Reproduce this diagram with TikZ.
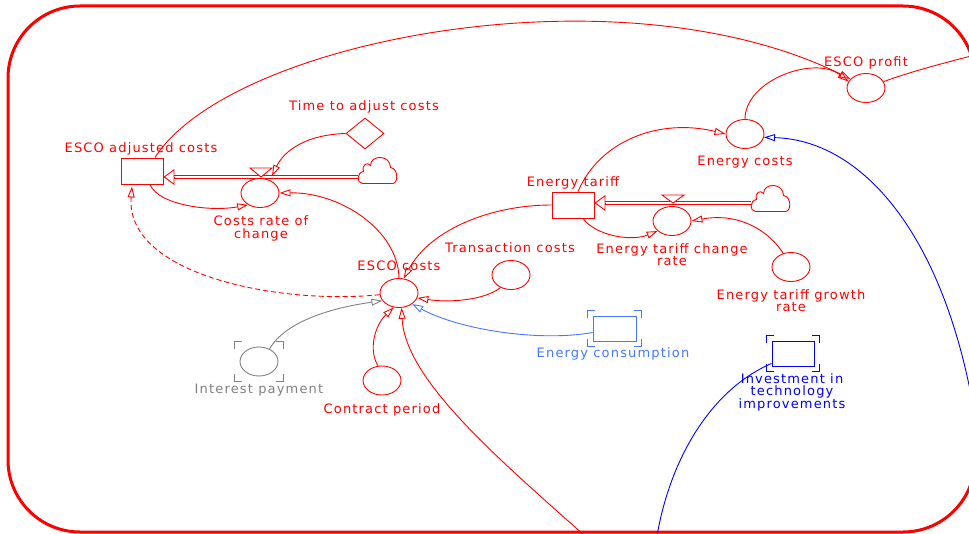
\documentclass[tikz,border=0pt]{standalone}
\usepackage{fontspec}
\setmainfont{DejaVu Sans}[LetterSpace=9]
\usetikzlibrary{arrows.meta,shapes.geometric}

\definecolor{vred}{RGB}{255,0,0}
\definecolor{vblue}{RGB}{0,0,255}
\definecolor{cblue}{RGB}{70,120,255}
\definecolor{vgray}{RGB}{128,128,128}

\tikzset{
  stock/.style = {rectangle, draw=#1, fill=white, minimum width=42pt, minimum height=26pt, inner sep=0pt},
  aux/.style = {ellipse, draw=#1, fill=white, minimum width=38pt, minimum height=29pt, inner sep=0pt},
  constbox/.style = {diamond, draw=#1, fill=white, minimum width=38pt, minimum height=31pt, inner sep=0pt},
  cloudbox/.style = {rectangle, minimum width=39pt, minimum height=27pt, inner sep=0pt},
  lbl/.style = {font=\fontsize{13}{12.7}\selectfont, inner sep=0pt, align=center, anchor=base},
  conn/.style = {-{Triangle[open, length=11pt, width=7pt]}},
  pipe/.style = {double=white, double distance=2pt},
  flowhead/.style = {-{Triangle[open, length=11pt, width=16pt]}},
  valvemark/.style = {draw=vred, fill=white}
}

% cloud outline round an invisible node
\newcommand\cloudat[2]{%
  \draw[draw=#2, fill=white, shift={(#1.center)}] (-15,13) -- (15,13)
    .. controls (21,13) and (21,-2) .. (13,-3)
    .. controls (13,-16) and (-7,-16) .. (-7,-5)
    .. controls (-10,-9) and (-16,-6) .. (-14,1)
    .. controls (-21,2) and (-21,13) .. (-15,13) -- cycle;}

% corner brackets of a shadow variable
\newcommand\shadowmarks[2]{%
  \path (#1.west |- #1.north) coordinate (nw) (#1.east |- #1.north) coordinate (ne)
        (#1.east |- #1.south) coordinate (se) (#1.west |- #1.south) coordinate (sw);
  \draw[#2] ([shift={(-5pt,-2pt)}]nw) -- ++(0pt,7pt) -- ++(7pt,0pt);
  \draw[#2] ([shift={(-2pt,5pt)}]ne) -- ++(7pt,0pt) -- ++(0pt,-7pt);
  \draw[#2] ([shift={(5pt,2pt)}]se) -- ++(0pt,-7pt) -- ++(-7pt,0pt);
  \draw[#2] ([shift={(2pt,-5pt)}]sw) -- ++(-7pt,0pt) -- ++(0pt,7pt);}

\begin{document}
\begin{tikzpicture}[x=1pt, y=-1pt, line width=0.9pt]
\useasboundingbox (0,0) rectangle (969,534);
\draw[vred, line width=3pt, rounded corners=72pt] (8,6) rectangle (975,532);

% stocks, clouds, valves
\node[stock=vred] (adjcost) at (142,171) {};
\node[stock=vred] (tariff) at (573,205) {};
\node[cloudbox] (cloudA) at (377.5,170.5) {};
\node[cloudbox] (cloudB) at (770.5,198.5) {};
\coordinate (valveA) at (261,177);
\coordinate (valveB) at (673,203);

\draw[pipe, vred] ([yshift=-6.5pt]cloudA.west) -- ([xshift=11pt, yshift=-6pt]adjcost.east);
\draw[flowhead, vred] ([xshift=11pt, yshift=-6pt]adjcost.east) -- ([yshift=-6pt]adjcost.east);
\draw[pipe, vred] ([yshift=-4.5pt]cloudB.west) -- ([xshift=11pt, yshift=2pt]tariff.east);
\draw[flowhead, vred] ([xshift=11pt, yshift=2pt]tariff.east) -- ([yshift=2pt]tariff.east);
\cloudat{cloudA}{vred}
\cloudat{cloudB}{vred}
\draw[valvemark] (valveA) -- ++(-11,-9) -- ++(22,0) -- cycle;
\draw[valvemark] (valveB) -- ++(-11,-8) -- ++(22,0) -- cycle;

% variables
\node[aux=vred] (crate) at (260,193) {};
\node[constbox=vred] (adjtime) at (365,133.5) {};
\node[aux=vred] (esco) at (399,293) {};
\node[aux=vred] (trans) at (511,275) {};
\node[aux=vgray] (intpay) at (259,361.5) {};
\node[aux=vred] (contract) at (382,380.5) {};
\node[stock=cblue, minimum width=43pt, minimum height=25pt] (econs) at (614.5,328.5) {};
\node[aux=vred] (trate) at (672,221) {};
\node[aux=vred] (growth) at (791,267) {};
\node[aux=vred] (ecost) at (745,134) {};
\node[aux=vred] (profit) at (866,88) {};
\node[stock=vblue, minimum height=25pt] (invest) at (793,353.5) {};
\shadowmarks{econs}{cblue}
\shadowmarks{invest}{vblue}
\shadowmarks{intpay}{vgray}

% labels (multi-line ones sit on their last line)
\node[lbl, vred] (adjcostlbl) at (141,152.5) {ESCO adjusted costs};
\node[lbl, vred] (adjtimelbl) at (364,111) {Time to adjust costs};
\node[lbl, vred] (cratelbl) at (261,238.3) {Costs rate of\\change};
\node[lbl, vred] (escolbl) at (399,271) {ESCO costs};
\node[lbl, vred] (translbl) at (510,253) {Transaction costs};
\node[lbl, vred] (tarifflbl) at (573,186.7) {Energy tariff};
\node[lbl, vred] (tratelbl) at (672,266) {Energy tariff change\\rate};
\node[lbl, vred] (ecostlbl) at (745,165.3) {Energy costs};
\node[lbl, vred] (profitlbl) at (866,66.3) {ESCO profit};
\node[lbl, vred] (growthlbl) at (791,312) {Energy tariff growth\\rate};
\node[lbl, cblue] (econslbl) at (613,357.3) {Energy consumption};
\node[lbl, vblue] (investlbl) at (792,408.5) {Investment in\\technology\\improvements};
\node[lbl, vgray] (intpaylbl) at (259,393.3) {Interest payment};
\node[lbl, vred] (contractlbl) at (382,413.3) {Contract period};

% links leaving the frame
\coordinate (offB1) at (585,536);
\coordinate (offB2) at (657,536);
\coordinate (offR1) at (975,55);
\coordinate (offR2) at (972,400);

% connectors
\draw[conn, vred] (adjtime.west) .. controls (300,135) and (282,155) .. ([xshift=11pt, yshift=1pt]valveA);
\draw[conn, vred] ([xshift=8pt]adjcost.south) .. controls (158,205) and (210,212) .. (crate.225);
\draw[conn, vred] (esco.north) .. controls (398,230) and (340,192) .. (crate.east);
\draw[conn, vred, dash pattern=on 5pt off 3pt] (esco.185) .. controls (280,305) and (125,275) .. ([xshift=-10pt, yshift=-2pt]adjcost.south);
\draw[conn, vred] ([xshift=13pt]adjcost.north) .. controls (230,40) and (620,-35) .. (profit.150);
\draw[conn, vred] (ecost.north) .. controls (745,80) and (815,55) .. (profit.160);
\draw[vred] (profit.20) .. controls (910,72) and (940,64) .. (offR1);
\draw[conn, vred] ([xshift=5pt]tariff.north) .. controls (600,140) and (660,118) .. (ecost.west);
\draw[conn, vred] ([xshift=10pt]tariff.south) .. controls (595,235) and (630,242) .. (trate.215);
\draw[conn, vred] (growth.120) .. controls (770,232) and (740,212) .. (trate.east);
\draw[conn, vred] (tariff.west) .. controls (490,205) and (430,230) .. (esco.72);
\draw[conn, vred] (trans.230) .. controls (485,300) and (450,303) .. (esco.-15);
\draw[conn, cblue] ([yshift=-4pt]econs.west) .. controls (540,342) and (460,330) .. (esco.-40);
\draw[conn, vgray] (intpay.50) .. controls (285,322) and (330,308) .. (esco.205);
\draw[conn, vred] (contract.105) .. controls (368,350) and (375,325) .. (esco.250);
\draw[conn, vred] (offB1) .. controls (500,460) and (405,380) .. (esco.280);
\draw[conn, vblue] (offR2) .. controls (940,230) and (860,140) .. (ecost.-10);
\draw[vblue] (offB2) .. controls (670,460) and (710,390) .. ([yshift=3pt]invest.south west);

\end{tikzpicture}
\end{document}
